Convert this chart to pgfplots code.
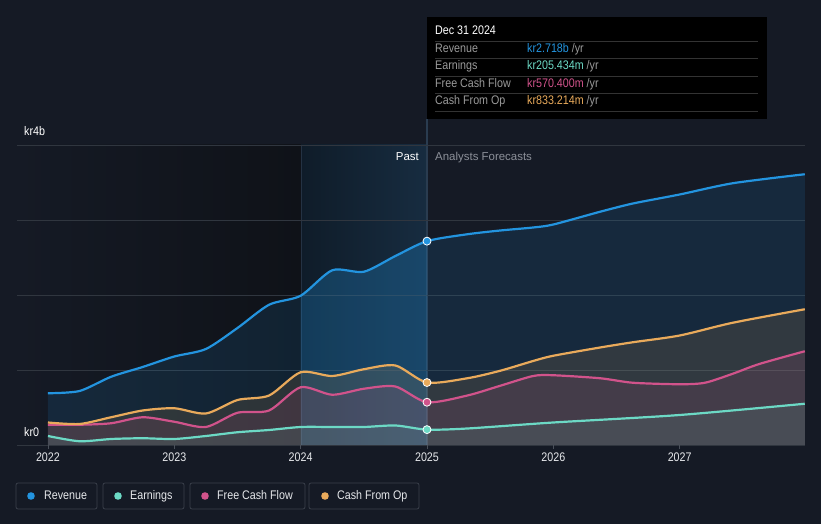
\documentclass[border=0pt]{standalone}
\usepackage{pgfplots}
\pgfplotsset{compat=1.18}
\usepackage{fontspec}
\setmainfont{Liberation Sans}
\newfontfamily\cond[FakeStretch=0.86]{Liberation Sans}
\definecolor{bg}{HTML}{151A25}
\definecolor{darkL}{HTML}{0F1218}
\definecolor{pastL}{HTML}{0F1C29}
\definecolor{pastR}{HTML}{172C40}
\definecolor{gridc}{HTML}{30363F}
\definecolor{axisc}{HTML}{4A505A}
\definecolor{vline}{HTML}{2A3C50}
\definecolor{tickc}{HTML}{E6E8EB}
\definecolor{labc}{HTML}{9A9A9A}
\definecolor{fcgray}{HTML}{8C9099}
\definecolor{sepc}{HTML}{333333}
\definecolor{legb}{HTML}{3A404B}
\definecolor{rev}{HTML}{2394DF}
\definecolor{ern}{HTML}{6CD9C5}
\definecolor{fcf}{HTML}{D1538B}
\definecolor{cfo}{HTML}{E9AA5B}
\begin{document}
\begin{tikzpicture}
\begin{scope}[x=1bp,y=1bp]
\fill[bg] (0,0) rectangle (821,524);
\shade[left color=bg, right color=darkL] (17,79) rectangle (301,379);
\shade[left color=pastL, right color=pastR] (301,79) rectangle (427,379);
\draw[vline!70!bg, line width=0.8bp] (301,79) -- (301,379);
\draw[vline, line width=1.2bp] (427,79) -- (427,405);
\end{scope}
\begin{axis}[at={(17bp,79bp)}, anchor=south west, scale only axis,
  width=788bp, height=300bp,
  xmin=2021.755, xmax=2027.992, ymin=0, ymax=4,
  axis line style={draw=none},
  ytick={0,1,2,3,4}, yticklabels={}, ytick style={draw=none},
  ymajorgrids, major grid style={color=gridc, line width=0.8bp},
  xtick={2022,2023,2024,2025,2026,2027},
  xticklabels={2022,2023,2024,2025,2026,2027},
  xtick pos=bottom,
  x tick label style={font=\cond\fontsize{12.5}{14}\selectfont, text=tickc, yshift=0bp},
  xtick style={color=axisc, line width=0.8bp},
  tick align=outside, major tick length=4bp,
  clip=false]
% fills
\addplot[draw=none, fill=rev, fill opacity=0.13, smooth, tension=0.45] coordinates {(2022,0.69)(2022.25,0.72)(2022.5,0.91)(2022.75,1.04)(2023,1.18)(2023.25,1.28)(2023.5,1.56)(2023.75,1.87)(2024,1.99)(2024.25,2.33)(2024.5,2.31)(2024.75,2.52)(2025,2.718)(2025.32,2.81)(2025.58,2.86)(2025.84,2.90)(2026,2.94)(2026.37,3.11)(2026.63,3.22)(2027,3.34)(2027.42,3.49)(2027.99,3.61)} \closedcycle;
\addplot[draw=none, fill=rev, fill opacity=0.16, smooth, tension=0.45, restrict x to domain=2024:2025] coordinates {(2024,1.99)(2024.25,2.33)(2024.5,2.31)(2024.75,2.52)(2025,2.718)} \closedcycle;
\addplot[draw=none, fill=cfo, fill opacity=0.13, smooth, tension=0.45] coordinates {(2022,0.30)(2022.25,0.28)(2022.5,0.37)(2022.75,0.46)(2023,0.49)(2023.25,0.42)(2023.5,0.60)(2023.75,0.66)(2024,0.97)(2024.25,0.92)(2024.5,1.01)(2024.75,1.06)(2025,0.833)(2025.32,0.89)(2025.58,0.99)(2025.84,1.12)(2026,1.19)(2026.37,1.30)(2026.63,1.37)(2027,1.46)(2027.42,1.63)(2027.99,1.81)} \closedcycle;
\addplot[draw=none, fill=fcf, fill opacity=0.12, smooth, tension=0.45] coordinates {(2022,0.27)(2022.25,0.27)(2022.5,0.29)(2022.75,0.37)(2023,0.31)(2023.25,0.24)(2023.5,0.43)(2023.75,0.46)(2024,0.77)(2024.25,0.67)(2024.5,0.75)(2024.75,0.78)(2025,0.570)(2025.32,0.66)(2025.58,0.79)(2025.84,0.92)(2026,0.93)(2026.37,0.89)(2026.63,0.83)(2027,0.81)(2027.2,0.83)(2027.42,0.95)(2027.63,1.08)(2027.99,1.25)} \closedcycle;
\addplot[draw=none, fill=ern, fill opacity=0.10, smooth, tension=0.45] coordinates {(2022,0.12)(2022.25,0.05)(2022.5,0.08)(2022.75,0.09)(2023,0.08)(2023.25,0.12)(2023.5,0.17)(2023.75,0.20)(2024,0.24)(2024.25,0.24)(2024.5,0.24)(2024.75,0.26)(2025,0.205)(2025.32,0.22)(2026,0.30)(2027,0.40)(2027.99,0.55)} \closedcycle;
% lines
\addplot[ern, line width=2.2bp, smooth, tension=0.45] coordinates {(2022,0.12)(2022.25,0.05)(2022.5,0.08)(2022.75,0.09)(2023,0.08)(2023.25,0.12)(2023.5,0.17)(2023.75,0.20)(2024,0.24)(2024.25,0.24)(2024.5,0.24)(2024.75,0.26)(2025,0.205)(2025.32,0.22)(2026,0.30)(2027,0.40)(2027.99,0.55)};
\addplot[fcf, line width=2.2bp, smooth, tension=0.45] coordinates {(2022,0.27)(2022.25,0.27)(2022.5,0.29)(2022.75,0.37)(2023,0.31)(2023.25,0.24)(2023.5,0.43)(2023.75,0.46)(2024,0.77)(2024.25,0.67)(2024.5,0.75)(2024.75,0.78)(2025,0.570)(2025.32,0.66)(2025.58,0.79)(2025.84,0.92)(2026,0.93)(2026.37,0.89)(2026.63,0.83)(2027,0.81)(2027.2,0.83)(2027.42,0.95)(2027.63,1.08)(2027.99,1.25)};
\addplot[cfo, line width=2.2bp, smooth, tension=0.45] coordinates {(2022,0.30)(2022.25,0.28)(2022.5,0.37)(2022.75,0.46)(2023,0.49)(2023.25,0.42)(2023.5,0.60)(2023.75,0.66)(2024,0.97)(2024.25,0.92)(2024.5,1.01)(2024.75,1.06)(2025,0.833)(2025.32,0.89)(2025.58,0.99)(2025.84,1.12)(2026,1.19)(2026.37,1.30)(2026.63,1.37)(2027,1.46)(2027.42,1.63)(2027.99,1.81)};
\addplot[rev, line width=2.2bp, smooth, tension=0.45] coordinates {(2022,0.69)(2022.25,0.72)(2022.5,0.91)(2022.75,1.04)(2023,1.18)(2023.25,1.28)(2023.5,1.56)(2023.75,1.87)(2024,1.99)(2024.25,2.33)(2024.5,2.31)(2024.75,2.52)(2025,2.718)(2025.32,2.81)(2025.58,2.86)(2025.84,2.90)(2026,2.94)(2026.37,3.11)(2026.63,3.22)(2027,3.34)(2027.42,3.49)(2027.99,3.61)};
% markers at 2025
\addplot[only marks, mark=*, mark size=4bp, mark options={fill=rev, draw=white, line width=0.8bp}] coordinates {(2025,2.718)};
\addplot[only marks, mark=*, mark size=4bp, mark options={fill=cfo, draw=white, line width=0.8bp}] coordinates {(2025,0.833)};
\addplot[only marks, mark=*, mark size=4bp, mark options={fill=fcf, draw=white, line width=0.8bp}] coordinates {(2025,0.570)};
\addplot[only marks, mark=*, mark size=4bp, mark options={fill=ern, draw=white, line width=0.8bp}] coordinates {(2025,0.205)};
\end{axis}
\begin{scope}[x=1bp,y=1bp]
% y labels
\node[anchor=base west, text=white, inner sep=0, font=\cond\fontsize{12.5}{14}\selectfont] at (24,388) {kr4b};
\node[anchor=base west, text=white, inner sep=0, font=\cond\fontsize{12.5}{14}\selectfont] at (24,87.5) {kr0};
% Past / forecasts
\node[anchor=base east, text=white, inner sep=0, font=\fontsize{11.5}{13}\selectfont] at (419,363) {Past};
\node[anchor=base west, text=fcgray, inner sep=0, font=\fontsize{11.5}{13}\selectfont] at (435,363) {Analysts Forecasts};
% tooltip
\fill[black] (427,405) rectangle (767,507);
\node[anchor=base west, text=white, inner sep=0, font=\cond\fontsize{12.5}{14}\selectfont] at (435,489) {Dec 31 2024};
\foreach \yy in {483,466,448,431,413} {\draw[sepc, line width=0.8bp] (435,\yy) -- (758,\yy);}
\begin{scope}[every node/.style={anchor=base west, inner sep=0, font=\cond\fontsize{12.5}{14}\selectfont}]
\node[text=labc] at (435,471.3) {Revenue};
\node[text=labc] at (435,454.3) {Earnings};
\node[text=labc] at (435,436.3) {Free Cash Flow};
\node[text=labc] at (435,419.3) {Cash From Op};
\node at (527,471.3) {\textcolor{rev}{kr2.718b}\textcolor{labc}{~/yr}};
\node at (527,454.3) {\textcolor{ern}{kr205.434m}\textcolor{labc}{~/yr}};
\node at (527,436.3) {\textcolor{fcf}{kr570.400m}\textcolor{labc}{~/yr}};
\node at (527,419.3) {\textcolor{cfo}{kr833.214m}\textcolor{labc}{~/yr}};
\end{scope}
% legend
\begin{scope}[every node/.style={anchor=base west, inner sep=0, text=tickc, font=\cond\fontsize{12.5}{14}\selectfont}]
\draw[legb, line width=0.8bp, rounded corners=2bp] (16,15) rectangle (97,41);
\fill[rev] (31,28) circle (3.8);
\node at (44,24) {Revenue};
\draw[legb, line width=0.8bp, rounded corners=2bp] (103,15) rectangle (184,41);
\fill[ern] (118,28) circle (3.8);
\node at (130,24) {Earnings};
\draw[legb, line width=0.8bp, rounded corners=2bp] (190,15) rectangle (305,41);
\fill[fcf] (205,28) circle (3.8);
\node at (217,24) {Free Cash Flow};
\draw[legb, line width=0.8bp, rounded corners=2bp] (309,15) rectangle (419,41);
\fill[cfo] (325,28) circle (3.8);
\node at (337,24) {Cash From Op};
\end{scope}
\end{scope}
\end{tikzpicture}
\end{document}
